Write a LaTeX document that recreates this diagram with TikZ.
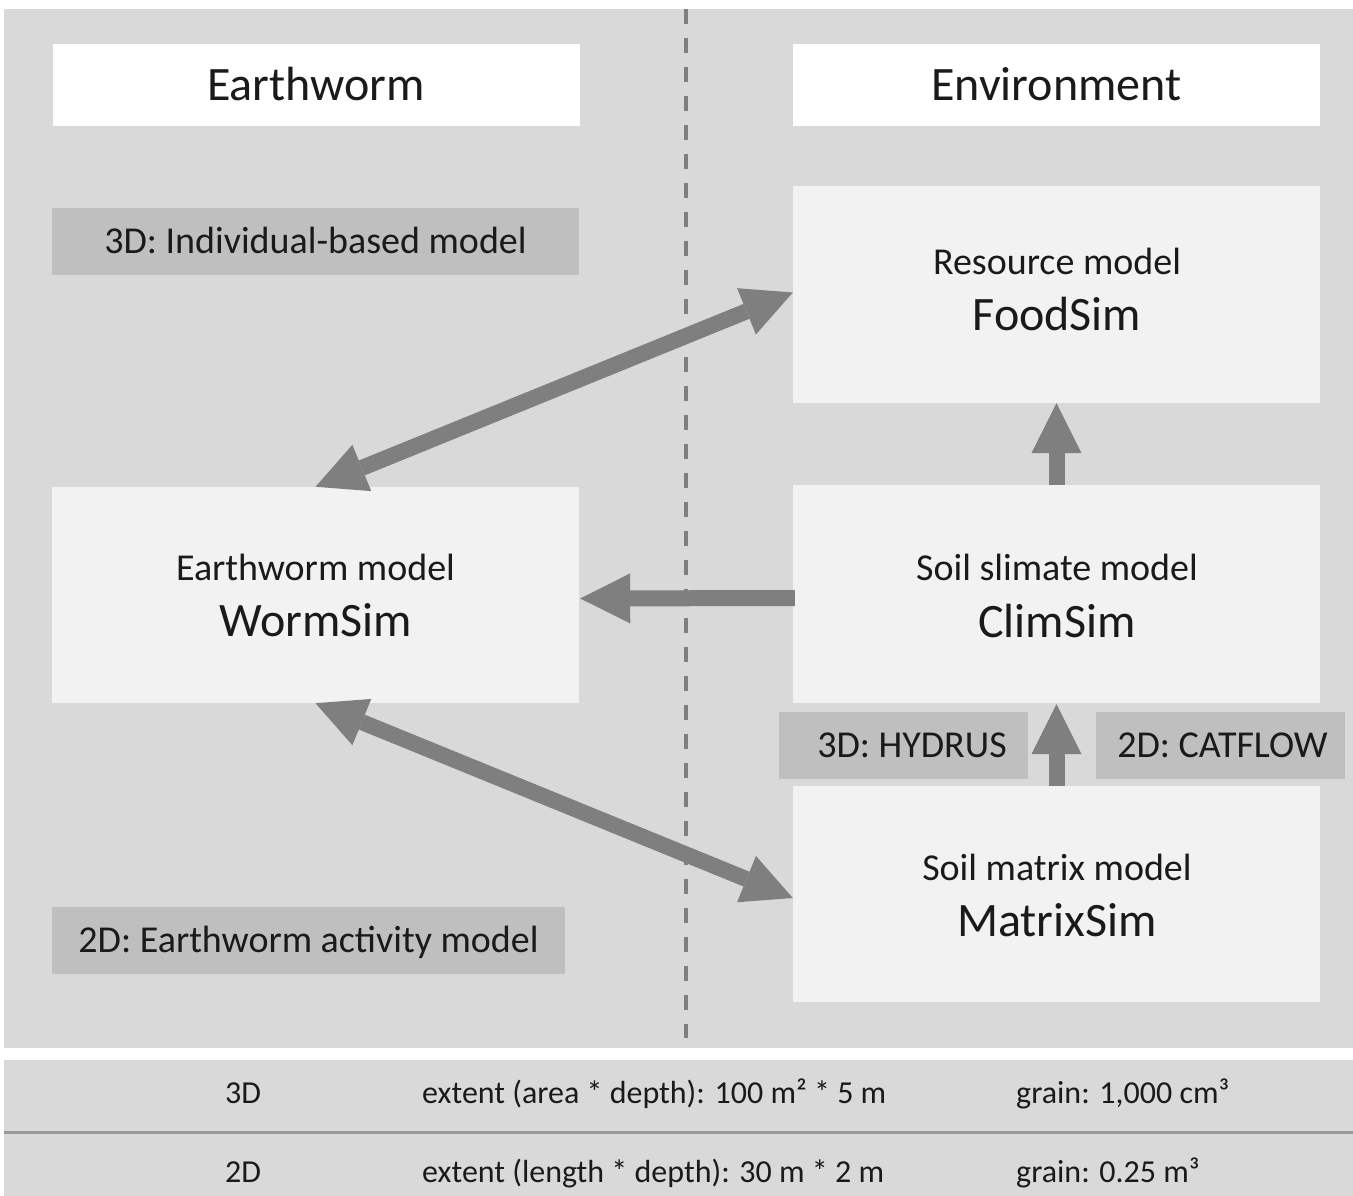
\documentclass[tikz,border=0pt]{standalone}
\usepackage{fontspec}
\setmainfont{Carlito}
\usetikzlibrary{arrows.meta}
\definecolor{panel}{HTML}{D9D9D9}
\definecolor{modelfill}{HTML}{F2F2F2}
\definecolor{labelfill}{HTML}{BFBFBF}
\definecolor{arrowgray}{HTML}{7F7F7F}
\definecolor{txt}{HTML}{1A1A1A}
\definecolor{sepline}{HTML}{9A9A9A}
\begin{document}
\begin{tikzpicture}[x=1pt,y=-1pt,
  titlebox/.style={fill=white, inner sep=0pt, minimum width=527pt, minimum height=82pt, text height=31pt, text depth=0pt, font=\fontsize{48}{56}\selectfont, text=txt},
  modelbox/.style={fill=modelfill, inner sep=0pt, minimum width=527pt, minimum height=217pt},
  tagbox/.style={fill=labelfill, inner sep=0pt, minimum height=67pt, text height=24.5pt, text depth=0pt, font=\fontsize{38}{46}\selectfont, text=txt},
  subtext/.style={anchor=base, font=\fontsize{38}{46}\selectfont, text=txt, inner sep=0pt},
  nametext/.style={anchor=base, font=\fontsize{48}{56}\selectfont, text=txt, inner sep=0pt},
  celltext/.style={anchor=base west, font=\fontsize{32}{38}\selectfont, text=txt, inner sep=0pt},
  flow/.style={draw=arrowgray, line width=16pt, -{Triangle[length=50pt,width=50pt,line width=0pt]}},
  biflow/.style={draw=arrowgray, line width=16pt, {Triangle[length=50pt,width=50pt,line width=0pt]}-{Triangle[length=50pt,width=50pt,line width=0pt]}},
]
\useasboundingbox (0,0) rectangle (1353,1196);
\fill[white] (0,0) rectangle (1353,1196);
% main panel
\fill[panel] (4,9) rectangle (1353,1048);
\draw[arrowgray, line width=4.5pt, dash pattern=on 15pt off 14pt] (686,9) -- (686,1038);

% headers
\node[titlebox] (hdrworm) at (316,85) {Earthworm};
\node[titlebox] (hdrenv) at (1056.5,85) {Environment};

% tags
\node[tagbox, minimum width=527pt] (tagibm) at (315.5,241.5) {3D: Individual-based model};
\node[tagbox, minimum width=513pt] (tagact) at (308.5,940) {2D: Earthworm activity model};

% model boxes
\node[modelbox, minimum height=216pt] (worm) at (315.5,595) {};
\node[modelbox] (food) at (1056.5,294.5) {};
\node[modelbox, minimum height=218pt] (clim) at (1056.5,594) {};
\node[modelbox, minimum height=216pt] (matrix) at (1056.5,894) {};

\node[subtext] (wormsub) at (315.5,580) {Earthworm model};
\node[nametext] (wormname) at (315.5,636.5) {WormSim};
\node[subtext] (foodsub) at (1057,274) {Resource model};
\node[nametext] (foodname) at (1057,330) {FoodSim};
\node[subtext] (climsub) at (1057,580) {Soil slimate model};
\node[nametext] (climname) at (1057,637) {ClimSim};
\node[subtext] (matrixsub) at (1057,880) {Soil matrix model};
\node[nametext] (matrixname) at (1057,936) {MatrixSim};

% hydrology tags
\node[tagbox, minimum width=249pt] (hydrus) at (903.5,745.5) {\hspace{17pt}3D: HYDRUS};
\node[tagbox, minimum width=249pt] (catflow) at (1220.5,745.5) {\hspace{4pt}2D: CATFLOW};

% arrows
\draw[biflow] (worm.north) -- ([yshift=2pt]food.west);
\draw[biflow] (worm.south) -- ([yshift=-4pt]matrix.west);
\draw[flow] ([xshift=2pt,yshift=-4pt]clim.west) -- ([xshift=1pt,yshift=-3.5pt]worm.east);
\draw[flow] (clim.north) -- (food.south);
\draw[flow] (matrix.north) -- ([yshift=-1pt]clim.south);

% table
\fill[panel] (4,1060) rectangle (1353,1131);
\fill[panel] (4,1134) rectangle (1353,1196);
\draw[sepline, line width=3pt] (4,1132.5) -- (1353,1132.5);
\node[celltext, anchor=base] (r1a) at (243,1103) {3D};
\node[celltext] (r1b) at (422,1103) {extent (area * depth): 100 m² * 5 m};
\node[celltext] (r1c) at (1016,1103) {grain: 1,000 cm³};
\node[celltext, anchor=base] (r2a) at (243,1182) {2D};
\node[celltext] (r2b) at (422,1182) {extent (length * depth): 30 m * 2 m};
\node[celltext] (r2c) at (1016,1182) {grain: 0.25 m³};
\end{tikzpicture}
\end{document}
